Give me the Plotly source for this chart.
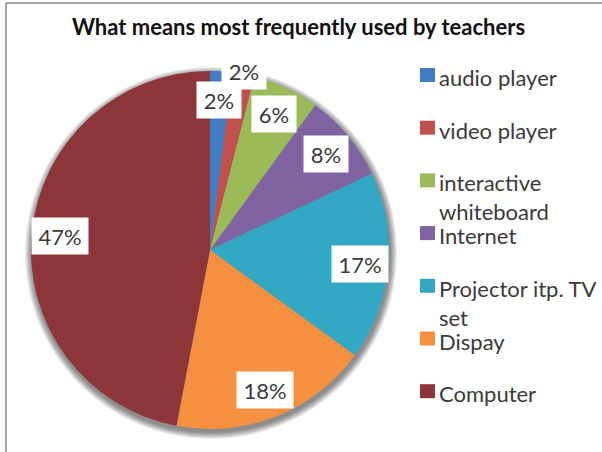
import math
import plotly.graph_objects as go

# Survey data
categories = ["audio player", "video player", "interactive whiteboard", "Internet",
              "Projector itp. TV set", "Dispay", "Computer"]
legend_labels = ["audio player", "video player", "interactive<br>whiteboard", "Internet",
                 "Projector itp. TV<br>set", "Dispay", "Computer"]
shares = [2, 2, 6, 8, 17, 18, 47]
colors = ["#3F7CC1", "#C0504D", "#9BBB59", "#8064A2", "#33A8C5", "#F4903F", "#8C3639"]

W, H = 602, 452
CX, CY, R = 210, 250, 179          # pie centre / radius in pixels
FONT = "Lato"
TXT = "#3a3a3a"


def px(x):
    return x / W


def py(y):
    return 1 - y / H


fig = go.Figure()

fig.add_trace(go.Pie(
    labels=categories,
    values=shares,
    sort=False,
    direction="clockwise",
    rotation=0,
    marker=dict(colors=colors, line=dict(width=0)),
    textinfo="none",
    hoverinfo="label+percent",
    showlegend=False,
    domain=dict(x=[px(CX - R), px(CX + R)], y=[py(CY + R), py(CY - R)]),
))

shapes = []

# soft drop shadow behind the pie
for k in range(7):
    rr = R + 1 + k
    shapes.append(dict(
        type="circle", xref="paper", yref="paper", layer="below",
        x0=px(CX - rr + 1), x1=px(CX + rr + 1),
        y0=py(CY + rr + 3), y1=py(CY - rr + 3),
        fillcolor="rgba(0,0,0,0.08)", line=dict(width=0),
    ))

# chart frame (top and left edges)
shapes.append(dict(type="line", xref="paper", yref="paper",
                   x0=px(6), x1=1, y0=py(3), y1=py(3),
                   line=dict(color="#8a8a8a", width=1.5)))
shapes.append(dict(type="line", xref="paper", yref="paper",
                   x0=px(6), x1=px(6), y0=py(3), y1=0,
                   line=dict(color="#8a8a8a", width=1.5)))

annotations = []

# percentage labels in white boxes, placed at each slice's mid-angle
total = sum(shares)
label_radius = {1: 1.02}
cum = 0
for i, v in enumerate(shares):
    mid = (cum + v / 2) / total * 2 * math.pi
    cum += v
    rf = label_radius.get(i, 0.84)
    x = CX + rf * R * math.sin(mid)
    y = CY - rf * R * math.cos(mid)
    text = f"{v}%"
    annotations.append(dict(
        x=px(x), y=py(y), xref="paper", yref="paper",
        text=text, showarrow=False,
        font=dict(family=FONT, size=22, color=TXT),
        bgcolor="white", borderpad=0,
        width=44 if len(text) == 2 else 56, height=36,
        xanchor="center", yanchor="middle",
    ))

# legend: coloured squares with category names
for i, (lab, col) in enumerate(zip(legend_labels, colors)):
    ly = 75 + i * 52.7
    shapes.append(dict(type="rect", xref="paper", yref="paper",
                       x0=px(420), x1=px(435), y0=py(ly + 7), y1=py(ly - 7),
                       fillcolor=col, line=dict(width=0)))
    annotations.append(dict(
        x=px(437), y=py(ly - 13), xref="paper", yref="paper",
        text=lab, showarrow=False, align="left",
        font=dict(family=FONT, size=22, color=TXT),
        xanchor="left", yanchor="top",
    ))

fig.update_layout(
    width=W, height=H,
    margin=dict(l=0, r=0, t=0, b=0),
    paper_bgcolor="white", plot_bgcolor="white",
    title=dict(text="<b>What means most frequently used by teachers</b>",
               x=px(298.5), y=py(27), xanchor="center", yanchor="middle",
               font=dict(family=FONT, size=22, color="#111111")),
    shapes=shapes,
    annotations=annotations,
)

fig.write_html("out.html")
